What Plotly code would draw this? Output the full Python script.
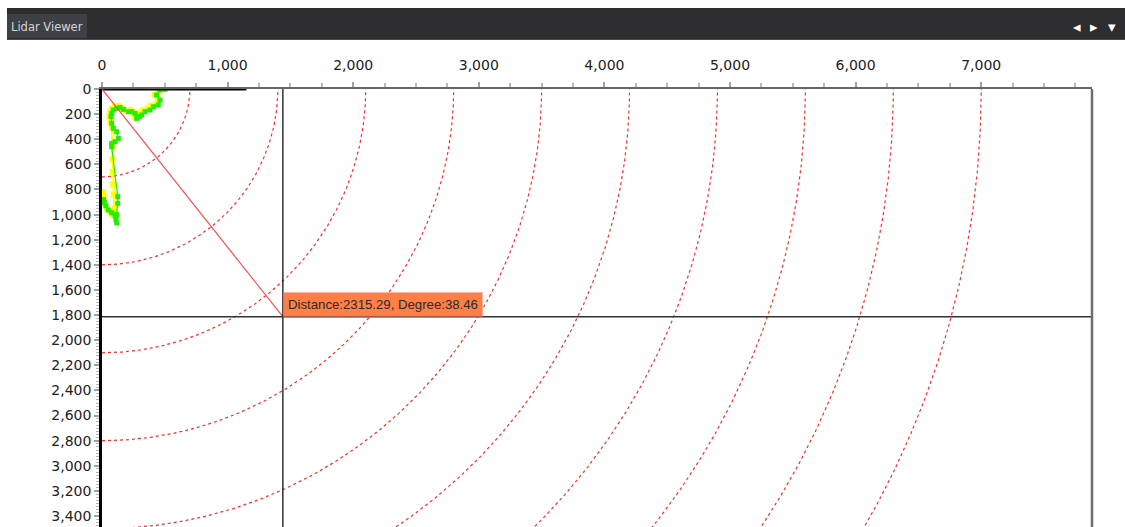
import numpy as np
import plotly.graph_objects as go

# ---- data ----
ring_radii = [700, 1400, 2100, 2800, 3500, 4200, 4900, 5600, 6300, 7000]

green_x = [502, 462, 435, 462, 448, 409, 382, 342, 316, 297, 276, 263, 236, 210, 170, 143, 117, 90, 77, 72,
           77, 90, 117, 130, 104, 77, 77, 125, 125, 117, 111, 117, 104, 77, 50, 30, 19, 12]
green_y = [2, 8, 48, 88, 127, 141, 167, 180, 207, 220, 234, 194, 180, 180, 162, 146, 154, 167, 194, 220,
           273, 313, 340, 393, 419, 433, 459, 857, 910, 1000, 1040, 1065, 1010, 985, 963, 930, 905, 880]

yellow_x = [480, 445, 418, 445, 430, 392, 365, 326, 298, 280, 262, 248, 222, 196, 158, 130, 104, 78, 64, 60,
            66, 80, 82, 84, 86, 90, 94, 98, 86, 64, 40, 22, 12, 10]
yellow_y = [2, 10, 46, 86, 120, 132, 156, 170, 194, 208, 222, 182, 168, 168, 150, 134, 142, 156, 184, 216,
            266, 306, 460, 560, 660, 760, 840, 950, 995, 975, 950, 910, 860, 820]

top_segment_x = [0, 1150]
top_segment_y = [0, 0]

cursor_distance = 2315.29
cursor_degree = 38.46

x_range = [0, 7882]
y_range = [3487, 0]

# ---- derived ----
cx = cursor_distance * np.sin(np.radians(cursor_degree))
cy = cursor_distance * np.cos(np.radians(cursor_degree))

fig = go.Figure()

theta = np.linspace(0, np.pi / 2, 400)
for r in ring_radii:
    fig.add_trace(go.Scatter(x=r * np.sin(theta), y=r * np.cos(theta), mode="lines",
                             line=dict(color="#ff2a2a", width=1.2, dash="dot"),
                             hoverinfo="skip", showlegend=False))

fig.add_trace(go.Scatter(x=yellow_x, y=yellow_y, mode="lines+markers",
                         line=dict(color="#ffff00", width=2),
                         marker=dict(color="#ffff00", size=6, symbol="square"),
                         showlegend=False))
fig.add_trace(go.Scatter(x=green_x, y=green_y, mode="lines+markers",
                         line=dict(color="#22ee00", width=1.2),
                         marker=dict(color="#22ee00", size=5, symbol="square"),
                         showlegend=False))

fig.add_trace(go.Scatter(x=top_segment_x, y=top_segment_y, mode="lines",
                         line=dict(color="#000000", width=3), cliponaxis=False,
                         hoverinfo="skip", showlegend=False))

fig.add_trace(go.Scatter(x=[0, cx], y=[0, cy], mode="lines",
                         line=dict(color="#ff4a4a", width=1.2),
                         hoverinfo="skip", showlegend=False))

# plot area in screen px: x 102..1092, y 89..527
def px(v):
    return (v - 102) / 990.0

def py(v):
    return (527 - v) / 438.0

shapes = [
    # crosshair
    dict(type="line", xref="x", yref="paper", x0=cx, x1=cx, y0=0, y1=1,
         line=dict(color="#111111", width=1.3)),
    dict(type="line", xref="paper", yref="y", x0=0, x1=1, y0=cy, y1=cy,
         line=dict(color="#333333", width=1.3)),
    # right border
    dict(type="line", xref="paper", yref="paper", x0=1, x1=1, y0=0, y1=1,
         line=dict(color="#6e6e6e", width=2.5)),
    # header bar
    dict(type="rect", xref="paper", yref="paper", x0=px(7), x1=px(1130), y0=py(40), y1=py(8),
         fillcolor="#2d2d30", line=dict(width=0), layer="above"),
    dict(type="line", xref="paper", yref="paper", x0=px(7), x1=px(1130), y0=py(39.5), y1=py(39.5),
         line=dict(color="#4a4a50", width=1)),
    dict(type="rect", xref="paper", yref="paper", x0=px(7), x1=px(87), y0=py(38), y1=py(14),
         fillcolor="#3f3f46", line=dict(width=0), layer="above"),
]

annotations = [
    dict(xref="paper", yref="paper", x=px(9), y=py(27), xanchor="left", yanchor="middle",
         text="Lidar Viewer", showarrow=False,
         font=dict(family="DejaVu Sans", size=11.5, color="#d4d4d4")),
    dict(xref="paper", yref="paper", x=px(1077), y=py(27), xanchor="center", yanchor="middle",
         text="◂", showarrow=False, font=dict(family="DejaVu Sans", size=15, color="#ffffff")),
    dict(xref="paper", yref="paper", x=px(1094), y=py(27), xanchor="center", yanchor="middle",
         text="▸", showarrow=False, font=dict(family="DejaVu Sans", size=15, color="#ffffff")),
    dict(xref="paper", yref="paper", x=px(1112), y=py(27), xanchor="center", yanchor="middle",
         text="▾", showarrow=False, font=dict(family="DejaVu Sans", size=15, color="#ffffff")),
    dict(xref="x", yref="y", x=cx, y=cy, xanchor="left", yanchor="bottom",
         text=f"Distance:{cursor_distance:.2f}, Degree:{cursor_degree:.2f}", showarrow=False,
         bgcolor="#ff7f45", bordercolor="rgba(255,120,90,0.55)", borderwidth=2, borderpad=3,
         font=dict(family="Liberation Sans", size=13.2, color="#2a2a2a")),
]

fig.update_layout(
    width=1125, height=527,
    margin=dict(l=102, r=33, t=89, b=0, autoexpand=False),
    paper_bgcolor="#ffffff", plot_bgcolor="#ffffff",
    shapes=shapes, annotations=annotations,
    showlegend=False,
    font=dict(family="DejaVu Sans", size=14, color="#222222"),
)

fig.update_xaxes(range=x_range, side="top", showgrid=False, zeroline=False,
                 tickmode="linear", tick0=0, dtick=1000, tickformat=",d",
                 ticks="outside", ticklen=5, tickcolor="#a0a0a0", tickwidth=2,
                 showline=True, linecolor="#666666", linewidth=2,
                 ticklabelstandoff=6,
                 minor=dict(dtick=250, ticks="outside", ticklen=4, tickcolor="#b8b8b8", tickwidth=1.5),
                 tickfont=dict(family="DejaVu Sans", size=14, color="#222222"))

fig.update_yaxes(range=y_range, showgrid=False, zeroline=False,
                 tickmode="linear", tick0=0, dtick=200, tickformat=",d",
                 ticks="outside", ticklen=5, tickcolor="#a0a0a0", tickwidth=2,
                 showline=True, linecolor="#000000", linewidth=2.5,
                 minor=dict(dtick=25, ticks="outside", ticklen=3, tickcolor="#b8b8b8", tickwidth=1),
                 tickfont=dict(family="DejaVu Sans", size=14, color="#222222"))

fig.write_html("out.html", config={"displayModeBar": False},
               post_script="document.body.style.margin='0';document.body.style.overflow='hidden';")
